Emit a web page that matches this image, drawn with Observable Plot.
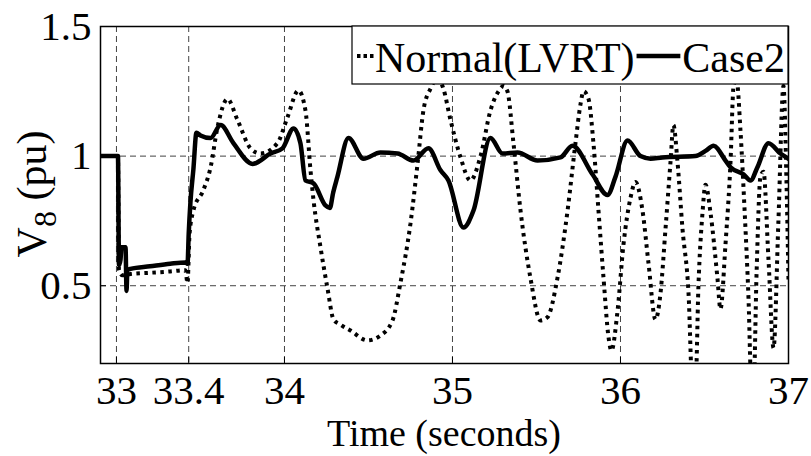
<!DOCTYPE html>
<html><head><meta charset="utf-8">
<script src="https://cdn.jsdelivr.net/npm/d3@7"></script>
<script src="https://cdn.jsdelivr.net/npm/@observablehq/plot@0.6"></script>
<style>body{margin:0;background:#fff} svg{display:block}</style>
</head><body><div id="chart"></div>
<script>
// Case2 (solid)
const case2T = [32.905,33.0,33.009,33.015,33.024,33.03,33.054,33.06,33.065,33.083,33.2,33.32,33.41,33.423,33.43,33.44,33.458,33.476,33.5,33.56,33.62,33.696,33.81,33.917,33.988,34.054,34.095,34.125,34.173,34.244,34.27,34.29,34.315,34.381,34.47,34.571,34.673,34.768,34.857,34.929,34.976,35.065,35.125,35.226,35.298,35.387,35.506,35.643,35.714,35.833,35.923,35.97,36.042,36.119,36.179,36.25,36.446,36.506,36.554,36.625,36.655,36.732,36.774,36.815,36.881,36.952,37.0];
const case2V = [1.0,1.0,1.0,0.58,0.60,0.648,0.648,0.48,0.56,0.565,0.575,0.585,0.59,0.585,0.70,0.82,0.95,1.09,1.08,1.07,1.12,1.05,0.97,1.01,1.03,1.107,1.05,0.906,0.895,0.81,0.80,0.86,0.92,1.07,0.99,1.014,1.01,0.983,1.03,0.945,0.906,0.725,0.79,1.07,1.01,1.014,0.983,0.995,1.04,0.93,0.85,0.92,1.06,1.0,0.99,0.995,1.0,1.02,1.04,0.983,0.957,0.93,0.906,0.957,1.05,1.01,0.99];
// Normal(LVRT) (dotted)
const normalT = [32.905,33.009,33.015,33.036,33.083,33.2,33.32,33.41,33.423,33.435,33.458,33.518,33.56,33.601,33.661,33.72,33.798,33.857,33.958,34.018,34.083,34.125,34.155,34.173,34.214,34.256,34.292,34.333,34.393,34.494,34.571,34.643,34.69,34.75,34.792,34.827,34.869,34.91,34.946,34.988,35.048,35.107,35.167,35.226,35.274,35.304,35.327,35.363,35.405,35.464,35.524,35.565,35.625,35.685,35.732,35.762,35.78,35.81,35.839,35.869,35.899,35.929,35.946,35.982,36.018,36.06,36.089,36.131,36.167,36.208,36.238,36.268,36.298,36.315,36.339,36.369,36.405,36.429,36.446,36.464,36.488,36.506,36.536,36.577,36.595,36.625,36.655,36.673,36.69,36.714,36.738,36.762,36.78,36.792,36.81,36.833,36.851,36.881,36.911,36.94,36.97,36.988,37.0];
const normalV = [1.0,1.0,0.56,0.54,0.545,0.55,0.555,0.56,0.51,0.70,0.79,0.87,0.956,1.11,1.22,1.14,1.03,1.01,1.05,1.15,1.253,1.176,0.945,0.83,0.65,0.49,0.37,0.35,0.327,0.289,0.308,0.366,0.51,0.74,0.97,1.176,1.26,1.30,1.26,1.14,0.995,0.906,1.0,1.176,1.25,1.27,1.25,1.05,0.79,0.53,0.366,0.378,0.53,0.79,1.05,1.2,1.25,1.22,1.05,0.79,0.53,0.30,0.25,0.40,0.66,0.84,0.90,0.79,0.585,0.37,0.47,0.72,0.98,1.12,0.98,0.72,0.47,0.10,0.10,0.5,0.78,0.89,0.78,0.53,0.41,0.66,0.98,1.27,1.30,1.1,0.8,0.45,0.10,0.10,0.55,0.92,0.94,0.6,0.26,0.75,1.27,0.9,0.52];

const xTicks = [33, 33.43, 34, 35, 36, 37];
const xTickLabels = ["33", "33.4", "34", "35", "36", "37"];
const yTicks = [0.5, 1, 1.5];
const yTickLabels = ["0.5", "1", "1.5"];
const seriesNames = ["Normal(LVRT)", "Case2"];
const xLabel = "Time (seconds)";

const W = 811, H = 456;
const mL = 100, mR = 23, mT = 26, mB = 93;
const FONT = "'Liberation Serif', 'Times New Roman', Times, serif";

const case2 = case2T.map((t, i) => ({t, v: case2V[i]}));
const normal = normalT.map((t, i) => ({t, v: normalV[i]}));

const plot = Plot.plot({
  width: W, height: H,
  marginLeft: mL, marginRight: mR, marginTop: mT, marginBottom: mB,
  style: {fontFamily: FONT, fontSize: "41px", color: "#000", background: "#fff"},
  x: {domain: [32.905, 37]},
  y: {domain: [0.2, 1.5]},
  marks: [
    Plot.gridX(xTicks, {stroke: "#222", strokeOpacity: 0.85, strokeWidth: 1, strokeDasharray: "6,4"}),
    Plot.gridY(yTicks, {stroke: "#222", strokeOpacity: 0.85, strokeWidth: 1, strokeDasharray: "6,4"}),
    Plot.line(normal, {x: "t", y: "v", stroke: "#000", strokeWidth: 4, strokeDasharray: "3.5,4.5", strokeLinecap: "butt", strokeLinejoin: "miter", curve: "monotone-x", clip: true}),
    Plot.line(case2, {x: "t", y: "v", stroke: "#000", strokeWidth: 4.5, curve: "monotone-x", clip: true}),
    Plot.frame({stroke: "#000", strokeWidth: 1.5}),
    Plot.axisX(xTicks, {tickFormat: d => xTickLabels[xTicks.indexOf(d)], tickSize: -6, tickPadding: 17, label: null, fill: "#000", stroke: "#000"}),
    Plot.axisY(yTicks, {tickFormat: d => yTickLabels[yTicks.indexOf(d)], tickSize: -6, tickPadding: 15, label: null, fill: "#000", stroke: "#000"})
  ]
});
document.getElementById("chart").appendChild(plot);

const svg = d3.select(plot);
// x label
svg.append("text").attr("x", (mL + W - mR) / 2).attr("y", 446)
  .attr("text-anchor", "middle").attr("font-family", FONT).attr("font-size", 38).attr("fill", "#000")
  .text(xLabel);
// y label with subscript
const yl = svg.append("text").attr("transform", "translate(46,194) rotate(-90)")
  .attr("text-anchor", "middle").attr("font-family", FONT).attr("font-size", 42).attr("fill", "#000");
yl.append("tspan").text("V");
yl.append("tspan").attr("dy", 10).attr("font-size", 32).text("8");
yl.append("tspan").attr("dy", -10).text(" (pu)");

// legend
const lg = svg.append("g");
const boxL = 352, boxR = W - mR, boxT = mT, boxB = 84;
lg.append("rect").attr("x", boxL).attr("y", boxT).attr("width", boxR - boxL).attr("height", boxB - boxT)
  .attr("fill", "#fff").attr("stroke", "#000").attr("stroke-width", 1.2);
const baseY = 72, midY = 56, LF = 42;
lg.append("line").attr("x1", 357).attr("x2", 374).attr("y1", midY).attr("y2", midY)
  .attr("stroke", "#000").attr("stroke-width", 4).attr("stroke-dasharray", "3.5,3");
const t1 = lg.append("text").attr("x", 375).attr("y", baseY).attr("text-anchor", "start").attr("font-family", FONT).attr("font-size", LF).attr("fill", "#000").text(seriesNames[0]);
const L1 = t1.node().getComputedTextLength();
const t2 = lg.append("text").attr("x", boxR - 3).attr("y", baseY).attr("text-anchor", "end").attr("font-family", FONT).attr("font-size", LF).attr("fill", "#000").text(seriesNames[1]);
const L2 = t2.node().getComputedTextLength();
const dashStart = 375 + L1 + 2, dashEnd = boxR - 3 - L2 - 2;
lg.append("line").attr("x1", dashStart).attr("x2", Math.max(dashStart + 10, dashEnd)).attr("y1", midY).attr("y2", midY)
  .attr("stroke", "#000").attr("stroke-width", 4.5);
</script>
</body></html>
